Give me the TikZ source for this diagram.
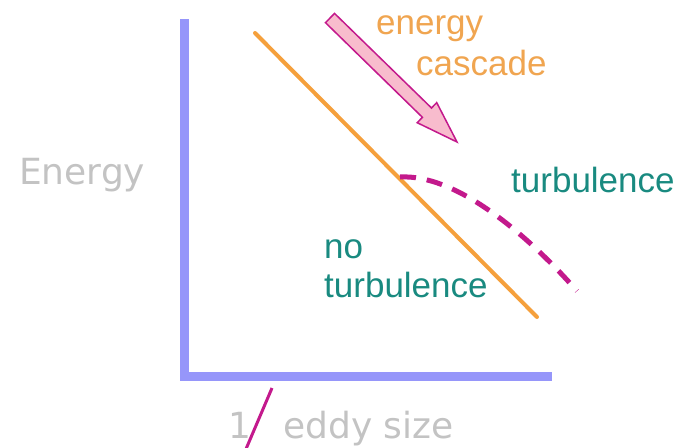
\documentclass[tikz,border=0pt]{standalone}
\usepackage{fontspec}
\setmainfont{Liberation Sans}
\newfontfamily\greyfont{DejaVu Sans}
\definecolor{axisblue}{RGB}{150,150,250}
\definecolor{lineorange}{RGB}{245,160,60}
\definecolor{textorange}{RGB}{240,165,80}
\definecolor{teal}{RGB}{25,138,128}
\definecolor{lightgrey}{RGB}{195,195,195}
\definecolor{arrowfill}{RGB}{248,188,205}
\definecolor{magenta}{RGB}{195,25,140}
\tikzset{
  coltext/.style={anchor=base west, inner sep=0pt, font=\fontsize{35}{41}\selectfont},
  greytext/.style={anchor=base west, inner sep=0pt, text=lightgrey, font=\greyfont\fontsize{36}{42}\selectfont},
  axisline/.style={draw=axisblue, line width=9pt, line join=miter},
  spectrum/.style={draw=lineorange, line width=4pt, line cap=round},
  cascadearrow/.style={draw=magenta, fill=arrowfill, line width=1.5pt, line join=miter},
  turbcurve/.style={draw=magenta, line width=5pt, dash pattern=on 16pt off 11pt},
  slash/.style={draw=magenta, line width=3pt}
}
\begin{document}
\begin{tikzpicture}[x=1pt,y=-1pt]
\useasboundingbox (0,0) rectangle (692,447);
% axes
\coordinate (ytop) at (184.5,19);
\coordinate (origin) at (184.5,376.5);
\coordinate (xend) at (552,376.5);
\path[axisline] (ytop) -- (origin) -- (xend);
% spectrum line
\coordinate (s1) at (255,33);
\coordinate (s2) at (537,317);
\path[spectrum] (s1) -- (s2);
% dashed turbulence curve
\coordinate (c1) at (400,177);
\coordinate (c2) at (577,291);
\path[turbcurve] (c1) .. controls (455,174) and (525,232) .. (c2);
% cascade arrow
\path[cascadearrow] (325.5,22.7) -- (422.4,117.3) -- (417.2,122.7) -- (457,142)
  -- (436.7,102.6) -- (431.5,108.0) -- (334.5,13.4) -- cycle;
% texts
\node[coltext, text=textorange] (energy) at (376,34) {energy};
\node[coltext, text=textorange] (cascade) at (416,75) {cascade};
\node[coltext, text=teal] (turb) at (511,192) {turbulence};
\node[coltext, text=teal] (no) at (324,258) {no};
\node[coltext, text=teal] (noturb) at (324,297) {turbulence};
\node[greytext] (Energy) at (19,184) {Energy};
\node[greytext] (one) at (228,438) {1};
\node[greytext] (eddy) at (283,438) {eddy size};
% slash
\coordinate (sl1) at (272,388);
\coordinate (sl2) at (246,449);
\path[slash] (sl1) -- (sl2);
\end{tikzpicture}
\end{document}
